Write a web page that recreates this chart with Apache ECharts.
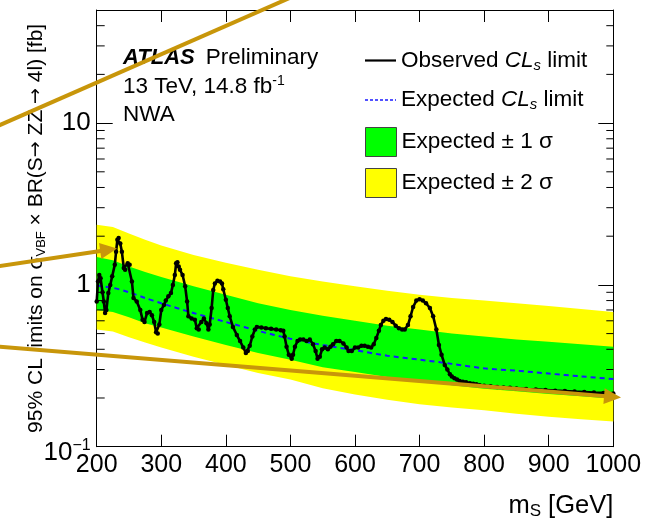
<!DOCTYPE html>
<html><head><meta charset="utf-8">
<script src="https://cdn.jsdelivr.net/npm/echarts@6/dist/echarts.min.js"></script>
<style>html,body{margin:0;padding:0;background:#fff}#c{width:659px;height:522px}</style>
</head><body><div id="c"></div>
<script>
// ---- data ----
const massObs = [200,202,204,206,209,211,213,215,218,221,224,228,230,232,234,236.5,239,242,244,248,251,254.5,257,262,267.5,271,274,278,282,285.5,289,292,294.5,297,300,304,307,311,315,318,321,323,325,327,329,333,337,340,342,347,352,355,358,362,366,370,373,375,378,380.5,383,387,391,394,396,400,403,406,411,417,422,427,431,434,437,441,445,448,455,462,470,478,485,489,491,494,497.5,502,504,507,511,515,520,525,530,535,539,542,545.5,549,553,558,562,566,571,576,582,587,590,595,600,605,610,615,620,625,629,633,637,640,644,648,653,658,663,668,673,677,682,686,690,695,700,705,710,716,721,726,730,734,739,743,747,750,754,758,762,767,772,778,783,788,793,800,810,820,830,840,850,865,880,895,910,925,940,955,970,985,1000];
const obsLimit = [0.79,1.05,1.15,1.10,0.90,0.79,0.67,0.70,0.89,1.00,1.13,1.33,1.60,1.90,1.95,1.80,1.60,1.27,1.24,1.36,1.33,1.05,0.83,0.79,0.70,0.61,0.59,0.67,0.68,0.65,0.59,0.51,0.50,0.57,0.70,0.75,0.80,0.85,0.89,1.00,1.15,1.36,1.38,1.30,1.24,1.15,0.98,0.79,0.64,0.62,0.61,0.54,0.53,0.59,0.62,0.58,0.53,0.57,0.72,0.93,1.02,1.06,1.05,1.02,0.94,0.81,0.72,0.64,0.55,0.49,0.45,0.41,0.38,0.39,0.42,0.48,0.53,0.55,0.545,0.54,0.535,0.53,0.525,0.52,0.48,0.415,0.37,0.35,0.37,0.415,0.45,0.46,0.46,0.45,0.46,0.43,0.39,0.35,0.36,0.40,0.41,0.40,0.415,0.43,0.45,0.45,0.435,0.41,0.39,0.39,0.41,0.41,0.42,0.42,0.415,0.41,0.43,0.47,0.52,0.565,0.60,0.615,0.61,0.59,0.56,0.54,0.53,0.53,0.565,0.64,0.73,0.80,0.815,0.80,0.77,0.72,0.64,0.53,0.425,0.37,0.32,0.30,0.28,0.272,0.265,0.26,0.255,0.252,0.25,0.247,0.245,0.243,0.24,0.238,0.236,0.234,0.232,0.231,0.229,0.227,0.226,0.224,0.222,0.221,0.219,0.218,0.216,0.215,0.213];

const massExp = [200,225,250,275,300,350,400,450,500,550,600,650,700,750,800,850,900,950,1000];
const expLimit = [0.99,0.96,0.90,0.83,0.77,0.67,0.59,0.52,0.465,0.425,0.395,0.365,0.345,0.325,0.305,0.295,0.283,0.272,0.262];
const plus1Sigma = [1.49,1.42,1.30,1.20,1.12,0.98,0.87,0.77,0.70,0.645,0.60,0.56,0.53,0.50,0.48,0.46,0.445,0.43,0.415];
const minus1Sigma = [0.70,0.68,0.63,0.58,0.545,0.48,0.425,0.38,0.345,0.31,0.29,0.27,0.255,0.24,0.228,0.22,0.212,0.205,0.198];
const plus2Sigma = [2.35,2.28,2.08,1.90,1.75,1.53,1.37,1.24,1.13,1.05,0.98,0.92,0.87,0.83,0.80,0.77,0.74,0.71,0.68];
const minus2Sigma = [0.53,0.515,0.475,0.44,0.41,0.36,0.32,0.285,0.26,0.23,0.21,0.195,0.183,0.175,0.168,0.16,0.153,0.148,0.143];

const yMinorTicks = [0.2,0.3,0.4,0.5,0.6,0.7,0.8,0.9,2,3,4,5,6,7,8,9,20,30,40];

const FONT = "'Liberation Sans', Arial, Helvetica, sans-serif";
const GOLD = '#C8960A';

const chart = echarts.init(document.getElementById('c'), null, {renderer: 'canvas'});

function bandSeries(name, upper, lower, color) {
  return {
    name: name, type: 'custom', coordinateSystem: 'cartesian2d',
    xAxisIndex: 0, yAxisIndex: 0, silent: true, clip: true,
    itemStyle: {color: color},
    data: massExp.map((m, i) => [m, upper[i]]),
    renderItem: function (params, api) {
      if (params.dataIndex !== 0) return null;
      const pts = [];
      for (let i = 0; i < massExp.length; i++) pts.push(api.coord([massExp[i], upper[i]]));
      for (let i = massExp.length - 1; i >= 0; i--) pts.push(api.coord([massExp[i], lower[i]]));
      return {type: 'polygon', shape: {points: pts}, style: {fill: color, stroke: null}};
    }
  };
}

function arrow(x1, y1, x2, y2, head) {
  const els = [{type: 'line', z: 100, silent: true,
    shape: {x1: x1, y1: y1, x2: x2, y2: y2}, style: {stroke: GOLD, lineWidth: 4}}];
  if (head) {
    const dx = x2 - x1, dy = y2 - y1, L = Math.sqrt(dx*dx + dy*dy);
    const ux = dx / L, uy = dy / L, px = -uy, py = ux;
    const hl = 17, hw = 8;
    const bx = x2 - ux * hl, by = y2 - uy * hl;
    els[0].shape.x2 = bx + ux * 2; els[0].shape.y2 = by + uy * 2;
    els.push({type: 'polygon', z: 100, silent: true,
      shape: {points: [[x2, y2], [bx + px * hw, by + py * hw], [bx - px * hw, by - py * hw]]},
      style: {fill: GOLD}});
  }
  return els;
}

const legendRich = {
  n: {fontSize: 22.5, fontFamily: FONT, color: '#000'},
  i: {fontSize: 22.5, fontFamily: FONT, fontStyle: 'italic', color: '#000'},
  s: {fontSize: 15, fontFamily: FONT, fontStyle: 'italic', color: '#000', padding: [10, 0, 0, 0]}
};
function legendFmt(name) {
  if (name === 'Observed CLs limit') return '{n|Observed }{i|CL}{s|s}{n| limit}';
  if (name === 'Expected CLs limit') return '{n|Expected }{i|CL}{s|s}{n| limit}';
  return '{n|' + name + '}';
}
function legendBox(top, item) {
  return {
    orient: 'vertical', left: 365, top: top, padding: 0, itemWidth: 31, itemHeight: 29,
    selectedMode: false, symbolKeepAspect: true,
    textStyle: {fontSize: 22.5, fontFamily: FONT, color: '#000', rich: legendRich},
    formatter: legendFmt, data: [item]
  };
}

const option = {
  animation: false,
  backgroundColor: '#fff',
  textStyle: {fontFamily: FONT},
  grid: {left: 96.7, right: 45.7, top: 10, bottom: 75.3, show: false},
  legend: [
    legendBox(49, {name: 'Observed CLs limit', icon: 'path://M0,0H31V2.2H0Z', itemStyle: {color: '#000', borderWidth: 0}}),
    legendBox(88.5, {name: 'Expected CLs limit', icon: 'path://M0,0H3V1.4H0Z M5,0H8V1.4H5Z M10,0H13V1.4H10Z M15,0H18V1.4H15Z M20,0H23V1.4H20Z M25,0H28V1.4H25Z M30,0H31V1.4H30Z', itemStyle: {color: '#1a1aff', borderWidth: 0}}),
    legendBox(127, {name: 'Expected ± 1 σ', icon: 'rect', itemStyle: {color: '#00ff00', borderColor: '#444', borderWidth: 1}}),
    legendBox(168, {name: 'Expected ± 2 σ', icon: 'rect', itemStyle: {color: '#ffff00', borderColor: '#444', borderWidth: 1}})
  ],
  xAxis: [{
    type: 'value', min: 200, max: 1000, interval: 100, position: 'bottom',
    axisLine: {show: true, onZero: false, lineStyle: {color: '#000', width: 1}},
    axisTick: {show: true, inside: true, length: 12, lineStyle: {color: '#000'}},
    axisLabel: {show: true, fontSize: 25, fontFamily: FONT, color: '#000', margin: 6,
      formatter: function (v) { return String(v); }},
    splitLine: {show: false},
    name: '{m|m}{s|S}{m| [GeV]}', nameLocation: 'end', nameGap: 0, nameMoveOverlap: false,
    nameTextStyle: {align: 'right', verticalAlign: 'top', padding: [45, 0, 0, 0],
      fontSize: 25, fontFamily: FONT, color: '#000',
      rich: {m: {fontSize: 25.5, fontFamily: FONT, color: '#000'},
             s: {fontSize: 17, fontFamily: FONT, color: '#000', padding: [11, 0, 0, 0]}}}
  }, {
    type: 'value', min: 200, max: 1000, interval: 100, position: 'top',
    axisLine: {show: true, onZero: false, lineStyle: {color: '#000', width: 1}},
    axisTick: {show: true, inside: true, length: 12, lineStyle: {color: '#000'}},
    axisLabel: {show: false}, splitLine: {show: false}
  }],
  yAxis: [{
    type: 'log', logBase: 10, min: 0.1, max: 50, position: 'left',
    axisLine: {show: true, onZero: false, lineStyle: {color: '#000', width: 1}},
    axisTick: {show: true, inside: true, length: 16, lineStyle: {color: '#000'}},
    axisLabel: {show: true, fontSize: 26, fontFamily: FONT, color: '#000', margin: 6,
      showMaxLabel: false,
      formatter: function (v) {
        if (Math.abs(v - 0.1) < 1e-6) return '{b|10}{e|−1}';
        if (Math.abs(v - 1) < 1e-6) return '1';
        if (Math.abs(v - 10) < 1e-5) return '10';
        return '';
      },
      rich: {
        b: {fontSize: 26, fontFamily: FONT, color: '#000', padding: [12, 0, 0, 0]},
        e: {fontSize: 16, fontFamily: FONT, color: '#000', padding: [0, 0, 2, 0]}
      }
    },
    splitLine: {show: false},
    name: '{t|95% CL limits on σ}{u|VBF}{t| × BR(S}{a|→}{t| ZZ }{a|→}{t| 4l) [fb]}',
    nameLocation: 'middle', nameRotate: 90, nameGap: 49, nameMoveOverlap: false,
    nameTextStyle: {fontSize: 21, fontFamily: FONT, color: '#000',
      rich: {t: {fontSize: 21, fontFamily: FONT, color: '#000'},
             a: {fontSize: 19, fontFamily: "'DejaVu Sans', sans-serif", color: '#000'},
             u: {fontSize: 13, fontFamily: FONT, color: '#000', padding: [10, 0, 0, 0]}}}
  }, {
    type: 'log', logBase: 10, min: 0.1, max: 50, position: 'right',
    axisLine: {show: true, onZero: false, lineStyle: {color: '#000', width: 1}},
    axisTick: {show: true, inside: true, length: 15, lineStyle: {color: '#000'}},
    axisLabel: {show: false}, splitLine: {show: false}
  }],
  series: [
    bandSeries('Expected ± 2 σ', plus2Sigma, minus2Sigma, '#ffff00'),
    bandSeries('Expected ± 1 σ', plus1Sigma, minus1Sigma, '#00ff00'),
    {
      name: 'Expected CLs limit', type: 'line', xAxisIndex: 0, yAxisIndex: 0,
      data: massExp.map((m, i) => [m, expLimit[i]]),
      showSymbol: false, symbol: 'none', smooth: 0.3,
      itemStyle: {color: '#1a1aff'},
      lineStyle: {color: '#1a1aff', width: 2, type: [5, 4]}, z: 3
    },
    {
      name: 'Observed CLs limit', type: 'line', xAxisIndex: 0, yAxisIndex: 0,
      data: massObs.map((m, i) => [m, obsLimit[i]]),
      symbol: 'circle', symbolSize: 4.5, showSymbol: true,
      itemStyle: {color: '#000'},
      lineStyle: {color: '#000', width: 2.6}, z: 4
    },
    {
      name: 'minorTicks', type: 'custom', xAxisIndex: 0, yAxisIndex: 0, silent: true, z: 10,
      data: yMinorTicks.map(v => [200, v]),
      renderItem: function (params, api) {
        const v = api.value(1);
        const l = api.coord([200, v]);
        const r = api.coord([1000, v]);
        return {type: 'group', children: [
          {type: 'line', shape: {x1: l[0], y1: l[1], x2: l[0] + 8, y2: l[1]}, style: {stroke: '#000', lineWidth: 1}},
          {type: 'line', shape: {x1: r[0] - 7, y1: r[1], x2: r[0], y2: r[1]}, style: {stroke: '#000', lineWidth: 1}}
        ]};
      }
    }
  ],
  graphic: [
    {type: 'text', z: 50, silent: true, style: {
      text: '{a|ATLAS}{b|Preliminary}', x: 123, y: 58, verticalAlign: 'middle',
      rich: {a: {fontSize: 22, fontFamily: FONT, fontWeight: 'bold', fontStyle: 'italic', fill: '#000'},
             b: {fontSize: 22.5, fontFamily: FONT, fill: '#000', padding: [0, 0, 0, 11]}}}},
    {type: 'text', z: 50, silent: true, style: {
      text: '{b|13 TeV, 14.8 fb}{s|-1}', x: 123, y: 87, verticalAlign: 'middle',
      rich: {b: {fontSize: 22.5, fontFamily: FONT, fill: '#000'},
             s: {fontSize: 14, fontFamily: FONT, fill: '#000', padding: [0, 0, 11, 0]}}}},
    {type: 'text', z: 50, silent: true, style: {
      text: 'NWA', x: 123, y: 115, verticalAlign: 'middle', fontSize: 22.5, fontFamily: FONT, fill: '#000'}}
  ].concat(arrow(-5, 127.2, 300, -6.6, false))
   .concat(arrow(-5, 266.7, 117, 248.5, true))
   .concat(arrow(-5, 346.3, 621, 397.5, true))
};

chart.setOption(option);
</script>
</body></html>
